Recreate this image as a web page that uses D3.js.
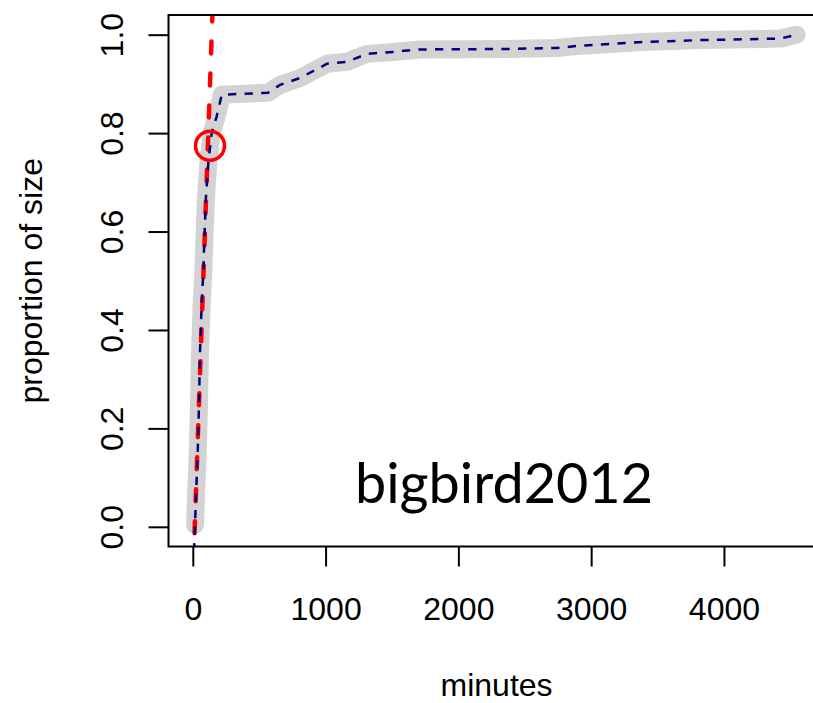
<!DOCTYPE html>
<html>
<head>
<meta charset="utf-8">
<script src="https://cdn.jsdelivr.net/npm/d3@7"></script>
<style>
  body { margin: 0; background: #fff; }
  svg { display: block; }
  text { font-family: "Liberation Sans", Arial, Helvetica, sans-serif; }
</style>
</head>
<body>
<div id="chart"></div>
<script>
// cumulative proportion of size vs minutes
const minutes = [17, 22, 37, 47, 54, 67, 79, 87, 99, 117, 142, 180, 218, 566, 657, 807,
  935, 1011, 1161, 1312, 1508, 1711, 2366, 2742, 2893, 3142, 3390, 3820, 4422, 4547];
const proportion = [0.004, 0.048, 0.150, 0.251, 0.353, 0.455, 0.516, 0.583, 0.670, 0.739,
  0.800, 0.834, 0.878, 0.882, 0.898, 0.912, 0.930, 0.941, 0.945, 0.961, 0.965, 0.970,
  0.971, 0.973, 0.977, 0.981, 0.985, 0.989, 0.992, 1.0];

// the dashed blue trace starts a bit lower than the grey one
const traceStart = [9, -0.05];

// red tangent line (two ends) and the marked point
const redMinutes = [13, 155];
const redProp = [-0.013, 1.1];
const marked = [129.5, 0.7745];

const xTicks = [0, 1000, 2000, 3000, 4000];
const yTicks = [0, 0.2, 0.4, 0.6, 0.8, 1.0];
const xLim = [0, 4575];
const yLim = [0, 1];
const label = "bigbird2012";

const width = 813;
const height = 703;
const box = { left: 168.5, top: 15, right: 824.6, bottom: 546.5 };

// R style 4% padding on each side
const xPad = (xLim[1] - xLim[0]) * 0.04;
const yPad = (yLim[1] - yLim[0]) * 0.04;
const x = d3.scaleLinear().domain([xLim[0] - xPad, xLim[1] + xPad]).range([box.left, box.right]);
const y = d3.scaleLinear().domain([yLim[0] - yPad, yLim[1] + yPad]).range([box.bottom, box.top]);

const svg = d3.select("#chart")
  .append("svg")
  .attr("width", width)
  .attr("height", height);

svg.append("defs")
  .append("clipPath")
  .attr("id", "plot-clip")
  .append("rect")
  .attr("x", box.left)
  .attr("y", box.top)
  .attr("width", box.right - box.left)
  .attr("height", box.bottom - box.top);

const plot = svg.append("g").attr("clip-path", "url(#plot-clip)");

const pts = minutes.map((m, i) => [m, proportion[i]]);
const line = d3.line().x((d) => x(d[0])).y((d) => y(d[1]));

// thick grey trace
plot.append("path")
  .attr("d", line(pts))
  .attr("fill", "none")
  .attr("stroke", "#d3d3d3")
  .attr("stroke-width", 18)
  .attr("stroke-linecap", "round")
  .attr("stroke-linejoin", "round");

// red dashed tangent
plot.append("path")
  .attr("d", line(redMinutes.map((m, i) => [m, redProp[i]])))
  .attr("fill", "none")
  .attr("stroke", "#ff0000")
  .attr("stroke-width", 4.5)
  .attr("stroke-dasharray", "12 20")
  .attr("stroke-linecap", "round");

// navy dashed trace on top
plot.append("path")
  .attr("d", line([traceStart].concat(pts)))
  .attr("fill", "none")
  .attr("stroke", "#000080")
  .attr("stroke-width", 2.5)
  .attr("stroke-dasharray", "8.3 8.3");

// circle on the knee
plot.append("circle")
  .attr("cx", x(marked[0]))
  .attr("cy", y(marked[1]))
  .attr("r", 14.5)
  .attr("fill", "none")
  .attr("stroke", "#ff0000")
  .attr("stroke-width", 3.5);

// axes
const xAxis = svg.append("g")
  .attr("transform", `translate(0,${box.bottom})`)
  .call(d3.axisBottom(x).tickValues(xTicks).tickSize(20).tickPadding(31).tickFormat(d3.format("d")));

const yAxis = svg.append("g")
  .attr("transform", `translate(${box.left},0)`)
  .call(d3.axisLeft(y).tickValues(yTicks).tickSize(20).tickFormat(d3.format(".1f")));

[xAxis, yAxis].forEach((g) => {
  g.select(".domain").remove();
  g.selectAll(".tick line").attr("stroke", "#000").attr("stroke-width", 2);
  g.selectAll(".tick text")
    .attr("fill", "#000")
    .style("font-size", "32px")
    .style("font-family", '"Liberation Sans", Arial, sans-serif');
});

yAxis.selectAll(".tick text")
  .attr("x", 0)
  .attr("dy", 0)
  .attr("text-anchor", "middle")
  .attr("transform", "translate(-45.5,0) rotate(-90)");

// plot box
svg.append("rect")
  .attr("x", box.left)
  .attr("y", box.top)
  .attr("width", box.right - box.left)
  .attr("height", box.bottom - box.top)
  .attr("fill", "none")
  .attr("stroke", "#000")
  .attr("stroke-width", 2);

// axis titles
svg.append("text")
  .attr("x", (box.left + box.right) / 2)
  .attr("y", 696)
  .attr("text-anchor", "middle")
  .style("font-size", "32px")
  .text("minutes");

svg.append("text")
  .attr("transform", `translate(42,${(box.top + box.bottom) / 2}) rotate(-90)`)
  .attr("text-anchor", "middle")
  .style("font-size", "32px")
  .text("proportion of size");

// dataset name inside the plot
const tag = svg.append("text")
  .attr("x", 504)
  .attr("y", 503)
  .attr("text-anchor", "middle")
  .style("font-family", '"Gill Sans", Lato, "Open Sans", sans-serif')
  .style("font-size", "50px")
  .text(label);

const tagLen = tag.node().getComputedTextLength();
tag.style("font-size", `${Math.min(60, 50 * 298 / tagLen)}px`);
</script>
</body>
</html>
